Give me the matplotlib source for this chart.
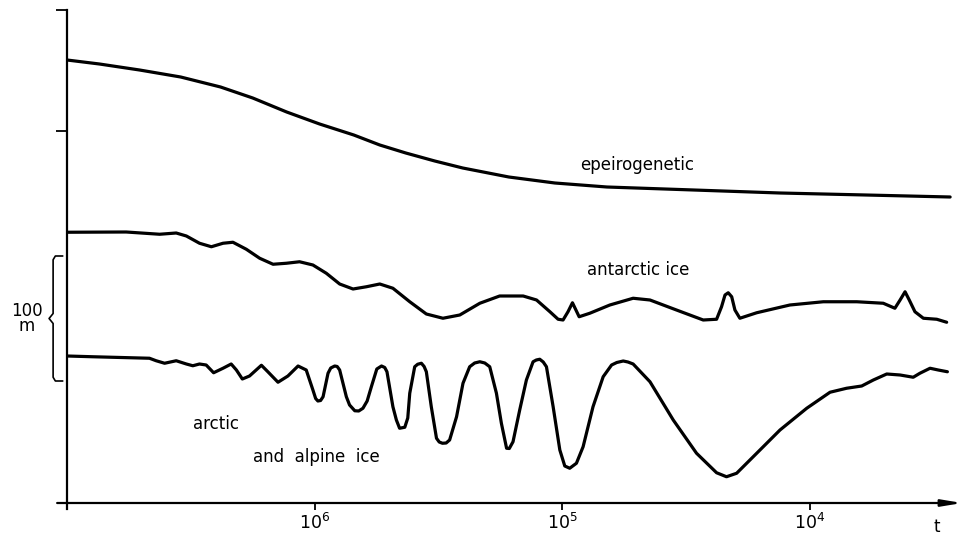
"""Sea-level components against time (log scale, age decreasing to the right)."""
import matplotlib
matplotlib.use("Agg")
import matplotlib.pyplot as plt
import numpy as np

plt.rcParams["font.family"] = ["DejaVu Sans"]
plt.rcParams["mathtext.fontset"] = "dejavusans"

# log10(age in years) and height in metres
epeiro_log_age = [7.00, 6.869, 6.707, 6.541, 6.380, 6.250, 6.113, 5.980, 5.842, 5.737,
                  5.632, 5.515, 5.402, 5.216, 5.030, 4.820, 4.469, 4.121, 3.774, 3.434]
epeiro_height = [354.4, 351.2, 346.4, 340.8, 332.8, 324.0, 312.8, 303.2, 294.4, 286.4,
                 280.0, 273.6, 268.0, 260.8, 256.0, 252.8, 250.4, 248.0, 246.4, 244.8]

antarctic_log_age = [7.00, 6.761, 6.626, 6.559, 6.518, 6.465, 6.417, 6.370, 6.330, 6.276,
                     6.222, 6.168, 6.114, 6.061, 6.007, 5.953, 5.899, 5.845, 5.791, 5.737,
                     5.684, 5.616, 5.549, 5.482, 5.414, 5.333, 5.253, 5.158, 5.104, 5.050,
                     5.017, 4.997, 4.977, 4.959, 4.945, 4.932, 4.889, 4.808, 4.714, 4.646,
                     4.539, 4.431, 4.377, 4.357, 4.343, 4.330, 4.316, 4.303, 4.283, 4.215,
                     4.081, 3.946, 3.811, 3.704, 3.657, 3.636, 3.616, 3.599, 3.576, 3.542,
                     3.488, 3.448]
antarctic_height = [216.6, 216.8, 215.0, 216.0, 213.6, 207.8, 205.0, 207.8, 208.6, 203.0,
                    195.8, 191.0, 191.8, 193.0, 190.4, 183.8, 175.2, 171.2, 173.0, 175.2,
                    171.8, 161.0, 151.2, 147.8, 150.4, 159.8, 165.6, 165.6, 162.4, 153.0,
                    147.0, 146.4, 153.0, 160.2, 154.4, 149.0, 151.8, 158.4, 163.8, 162.4,
                    154.4, 146.4, 147.0, 157.0, 166.4, 168.2, 165.0, 154.4, 147.8, 152.2,
                    158.4, 161.0, 161.0, 159.8, 155.8, 162.4, 169.0, 162.4, 153.0, 147.8,
                    147.0, 144.6]

arctic_log_age = [7.00, 6.896, 6.667, 6.640, 6.606, 6.559, 6.518, 6.492, 6.465, 6.438,
                  6.408, 6.370, 6.337, 6.316, 6.292, 6.263, 6.215, 6.189, 6.148, 6.108,
                  6.067, 6.034, 6.007, 5.996, 5.987, 5.976, 5.966, 5.946, 5.935, 5.919,
                  5.909, 5.899, 5.872, 5.859, 5.838, 5.822, 5.805, 5.788, 5.771, 5.749,
                  5.730, 5.717, 5.708, 5.684, 5.670, 5.657, 5.636, 5.624, 5.616, 5.596,
                  5.584, 5.569, 5.558, 5.549, 5.529, 5.508, 5.497, 5.484, 5.469, 5.455,
                  5.427, 5.401, 5.374, 5.354, 5.333, 5.313, 5.293, 5.266, 5.246, 5.225,
                  5.214, 5.199, 5.172, 5.145, 5.118, 5.105, 5.091, 5.077, 5.064, 5.037,
                  5.010, 4.990, 4.970, 4.943, 4.916, 4.876, 4.835, 4.801, 4.780, 4.754,
                  4.735, 4.714, 4.646, 4.552, 4.458, 4.377, 4.337, 4.296, 4.215, 4.121,
                  4.013, 3.919, 3.852, 3.791, 3.744, 3.690, 3.636, 3.583, 3.556, 3.515,
                  3.482, 3.445]
arctic_height = [117.6, 117.0, 115.8, 113.8, 111.8, 113.8, 111.2, 109.8, 111.2, 110.4,
                 104.2, 107.8, 111.2, 106.4, 99.2, 101.6, 110.2, 105.0, 96.6, 101.6,
                 109.6, 106.4, 90.4, 83.6, 81.6, 82.0, 85.0, 103.8, 108.0, 109.6,
                 109.2, 106.4, 85.0, 78.4, 73.8, 73.6, 75.8, 81.6, 93.0, 107.2,
                 109.6, 108.4, 105.0, 77.0, 66.4, 59.8, 60.6, 68.0, 87.8, 109.0,
                 111.0, 111.8, 109.2, 105.0, 77.0, 51.8, 48.8, 47.8, 48.0, 50.4,
                 69.0, 95.8, 109.0, 112.0, 113.0, 112.0, 109.0, 87.8, 63.8, 43.8,
                 43.6, 49.0, 74.4, 98.4, 113.0, 114.4, 115.0, 112.8, 109.0, 77.0,
                 42.4, 29.6, 27.8, 31.8, 45.0, 77.0, 101.0, 110.4, 112.4, 113.6,
                 112.8, 111.2, 97.0, 66.4, 39.8, 24.2, 21.0, 23.8, 39.8, 58.4,
                 75.8, 88.6, 91.8, 93.6, 98.4, 103.2, 102.4, 100.6, 103.8, 107.8,
                 106.4, 105.0]

tick_ages = [1e6, 1e5, 1e4]
tick_labels = ["$10^6$", "$10^5$", "$10^4$"]
height_ticks = [297.6, 394.4]
scale_bar = (97.6, 197.6)  # the 100 m brace


def main() -> None:
    fig = plt.figure(figsize=(9.63, 5.38), dpi=100)
    ax = fig.add_axes([67 / 963, 35 / 538, 896 / 963, 493 / 538])

    line_kw = dict(color="black", linewidth=2.3, solid_capstyle="round", solid_joinstyle="round")
    ax.plot(10 ** np.array(epeiro_log_age), epeiro_height, **line_kw)
    ax.plot(10 ** np.array(antarctic_log_age), antarctic_height, **line_kw)
    ax.plot(10 ** np.array(arctic_log_age), arctic_height, **line_kw)

    ax.set_xscale("log")
    ax.set_xlim(1e7, 10 ** 3.382)
    ax.set_ylim(0, 394.4)

    for side in ("top", "right", "bottom", "left"):
        ax.spines[side].set_visible(False)
    # axes drawn by hand: y axis runs a little below, x axis ends in an arrow
    ax.plot([0, 0], [-0.012, 1.0], transform=ax.transAxes, color="black",
            linewidth=1.6, clip_on=False)
    ax.annotate("", xy=(0.999, 0), xytext=(-0.011, 0), xycoords="axes fraction",
                arrowprops=dict(arrowstyle="-|>,head_length=1.2,head_width=0.2",
                                color="black", linewidth=1.6, shrinkA=0, shrinkB=0))

    ax.set_xticks(tick_ages)
    ax.set_xticklabels(tick_labels, fontsize=12.5)
    ax.xaxis.set_minor_locator(matplotlib.ticker.NullLocator())
    ax.tick_params(axis="x", direction="out", length=5, width=1.3, pad=2)
    ax.set_yticks(height_ticks)
    ax.set_yticklabels([])
    ax.tick_params(axis="y", direction="out", length=8, width=1.3)

    # 100 m brace left of the y axis
    trans = matplotlib.transforms.blended_transform_factory(ax.transAxes, ax.transData)
    lo, hi = scale_bar
    mid = (lo + hi) / 2
    bx = [-0.005, -0.013, -0.0155, -0.0155, -0.02, -0.0155, -0.0155, -0.013, -0.005]
    by = [hi, hi, hi - 3, mid + 4, mid, mid - 4, lo + 3, lo, lo]
    ax.plot(bx, by, transform=trans, color="black", linewidth=1.2, clip_on=False)
    ax.text(-0.045, mid, "100\nm", transform=trans, ha="center", va="center",
            fontsize=12, linespacing=0.8)

    text_kw = dict(fontsize=12, ha="center", va="center")
    ax.text(10 ** 4.699, 270.4, "epeirogenetic", **text_kw)
    ax.text(10 ** 4.695, 186.4, "antarctic ice", **text_kw)
    ax.text(10 ** 6.400, 63.2, "arctic", **text_kw)
    ax.text(10 ** 5.992, 36.8, "and  alpine  ice", **text_kw)
    ax.text(10 ** 3.487, -19.5, "t", clip_on=False, **text_kw)

    fig.savefig("out.png", dpi=100)
    plt.close(fig)


if __name__ == "__main__":
    main()
